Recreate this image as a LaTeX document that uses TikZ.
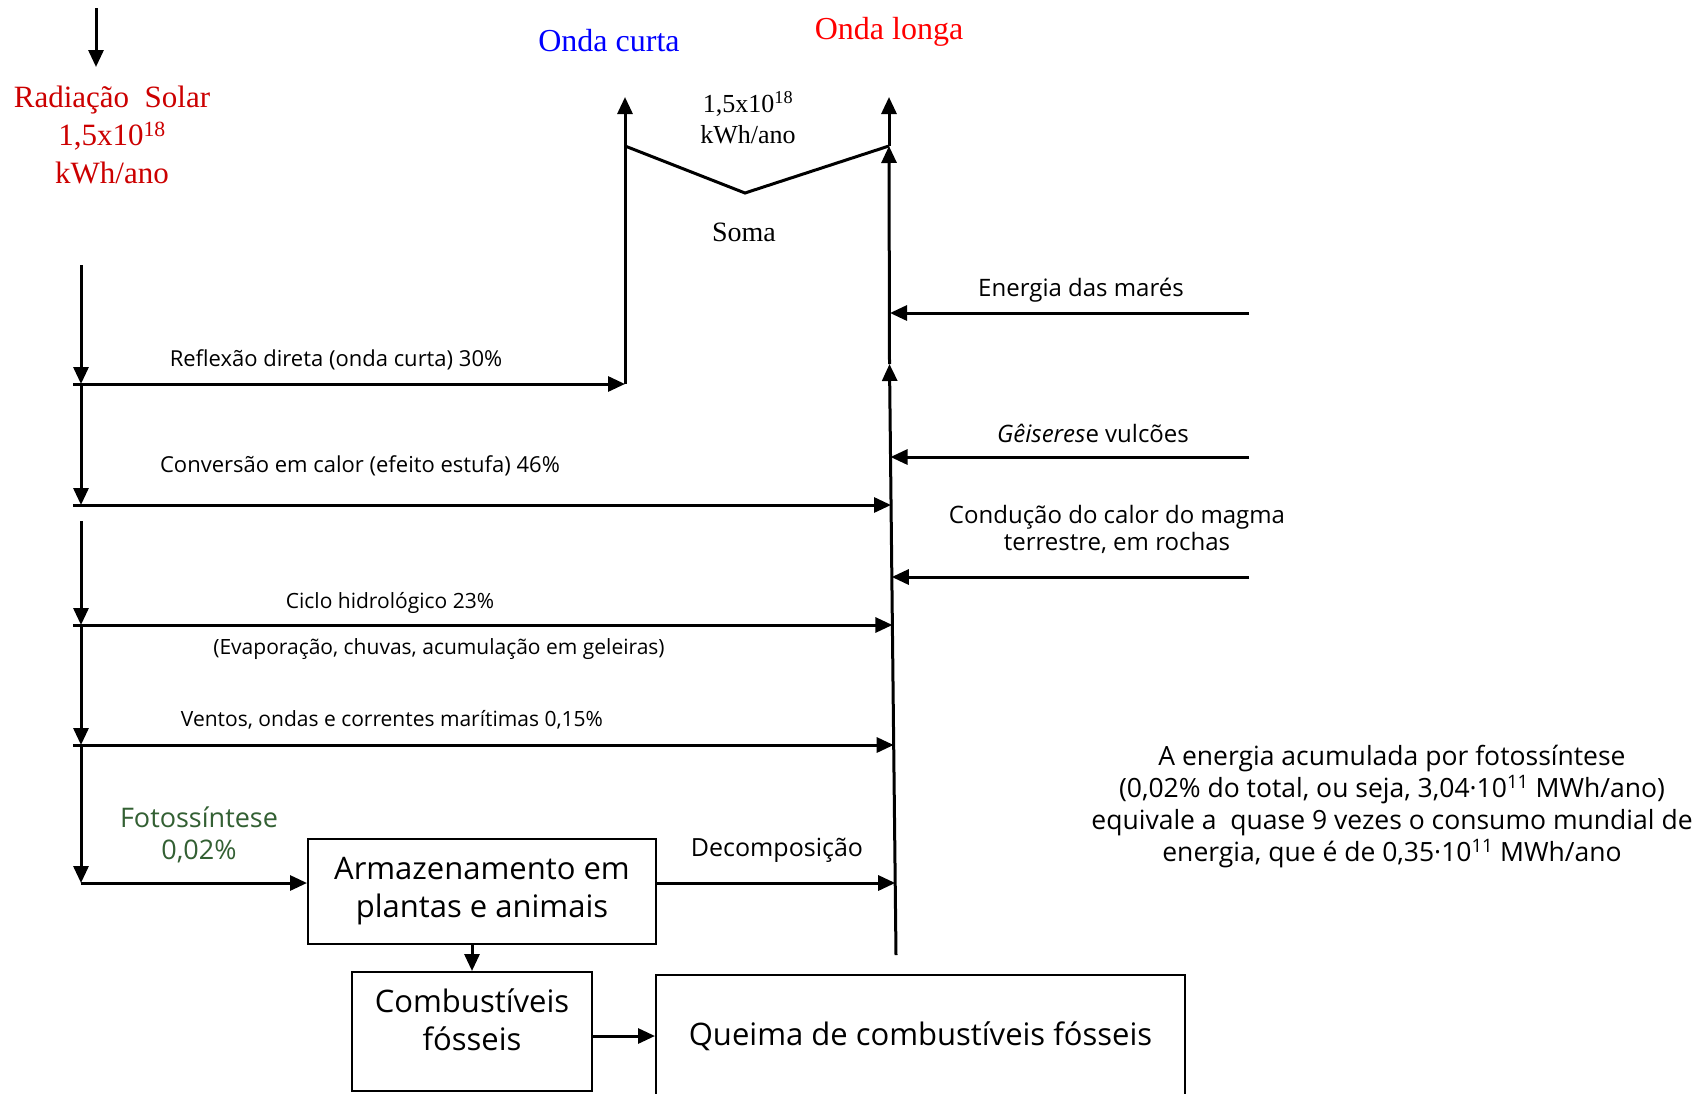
\documentclass[tikz,border=0pt]{standalone}
\usepackage{fontspec}
\setmainfont{Liberation Serif}
\newfontfamily\comic{Open Sans}
\usetikzlibrary{arrows.meta}
\definecolor{solred}{RGB}{204,0,0}
\definecolor{lred}{RGB}{255,0,0}
\definecolor{cblue}{RGB}{0,0,255}
\definecolor{fgreen}{RGB}{51,96,51}
\newcommand{\fsz}[2]{\fontsize{#1}{#2}\selectfont}
\tikzset{
  flow/.style={line width=3pt, -{Triangle[length=17pt,width=15pt]}},
  plainline/.style={line width=3pt},
  boxshape/.style={draw, line width=2pt, rectangle, inner sep=0pt},
  lbl/.style={inner sep=0pt, font=\comic\fsz{22}{26}},
  serif/.style={inner sep=0pt, align=center},
}
\begin{document}
\begin{tikzpicture}[x=1pt,y=-1pt]
\useasboundingbox (0,0) rectangle (1695,1093);
\clip (0,0) rectangle (1695,1093);
\fill[white] (0,0) rectangle (1695,1093);

% top texts
\coordinate (sunTop) at (96,8);
\coordinate (sunTip) at (96,67);
\draw[flow] (sunTop) -- (sunTip);
\node[serif, text=solred, font=\fsz{31}{38}] (rad) at (112,135) {Radiação\ \ Solar\\1,5x10\textsuperscript{18}\\kWh/ano};
\node[serif, text=cblue, font=\fsz{32}{38}] (oc) at (609,41) {Onda curta};
\node[serif, text=lred, font=\fsz{32}{38}] (ol) at (889,32) {Onda longa};
\node[serif, font=\fsz{26}{31}] (sumv) at (748,118) {1,5x10\textsuperscript{18}\\kWh/ano};
\node[serif, font=\fsz{28}{32}] (soma) at (744,232) {Soma};

% onda curta / longa verticals
\coordinate (ocBot) at (625,384);
\coordinate (ocV) at (625,146);
\coordinate (ocTop) at (625,97);
\coordinate (vBot) at (745,193);
\coordinate (olV) at (889,146);
\coordinate (olTop) at (889,97);
\coordinate (olMid) at (889.5,364);
\coordinate (olBot) at (896,955);
\draw[flow] (ocBot) -- (ocTop);
\draw[plainline] (ocV) -- (vBot) -- (olV);
\draw[flow] (olV) -- (olTop);
\draw[flow] (olMid) -- (olV);
\draw[flow] (olBot) -- (olMid);

% left trunk
\coordinate (L0) at (81,265);
\coordinate (L1) at (81,384);
\coordinate (L2) at (81,505);
\coordinate (L3t) at (81,521);
\coordinate (L3) at (81,625);
\coordinate (L4) at (81,745);
\coordinate (L5) at (81,883);
\draw[flow] (L0) -- (L1);
\draw[flow] (L1) -- (L2);
\draw[flow] (L3t) -- (L3);
\draw[flow] (L3) -- (L4);
\draw[flow] (L4) -- (L5);

% horizontal flows
\coordinate (H1) at (73,384);
\coordinate (H2) at (73,505);
\coordinate (H3) at (73,625);
\coordinate (H4) at (73,745);
\coordinate (E2) at (891,505);
\coordinate (E3) at (892.4,625);
\coordinate (E4) at (893.7,745);
\draw[flow] (H1) -- (ocBot);
\draw[flow] (H2) -- (E2);
\draw[flow] (H3) -- (E3);
\draw[flow] (H4) -- (E4);

\node[lbl] (refl) at (336,360) {Reflexão direta (onda curta) 30\%};
\node[lbl] (conv) at (360,466) {Conversão em calor (efeito estufa) 46\%};
\node[lbl, font=\comic\fsz{21}{26}] (ciclo) at (390,603) {Ciclo hidrológico 23\%};
\node[lbl, font=\comic\fsz{21}{26}] (evap) at (439,649) {(Evaporação, chuvas, acumulação em geleiras)};
\node[lbl, font=\comic\fsz{21}{26}] (vent) at (392,720) {Ventos, ondas e correntes marítimas 0,15\%};

% right inputs
\coordinate (M1s) at (1249,313);
\coordinate (M1e) at (890,313);
\coordinate (M2s) at (1249,457);
\coordinate (M2e) at (890.5,457);
\coordinate (M3s) at (1249,577);
\coordinate (M3e) at (891.8,577);
\draw[flow] (M1s) -- (M1e);
\draw[flow] (M2s) -- (M2e);
\draw[flow] (M3s) -- (M3e);
\node[lbl, font=\comic\fsz{24}{27}] (mares) at (1081,290) {Energia das marés};
\node[lbl, font=\comic\fsz{24}{27}] (geis) at (1093,433) {\textit{Gêiseres}e vulcões};
\node[lbl, font=\comic\fsz{24}{27}, align=center] (cond) at (1117,529.5) {Condução do calor do magma\\terrestre, em rochas};

% right note
\node[lbl, font=\comic\fsz{26.5}{31.7}, align=center] (note) at (1392,806.5) {A energia acumulada por fotossíntese\\(0,02\% do total, ou seja, 3,04·10\textsuperscript{11} MWh/ano)\\equivale a\ \ quase 9 vezes o consumo mundial de\\energia, que é de 0,35·10\textsuperscript{11} MWh/ano};

% photosynthesis and storage
\node[lbl, font=\comic\fsz{27}{32}, text=fgreen, align=center] (fot) at (199,835) {Fotossíntese\\0,02\%};
\node[boxshape, minimum width=348pt, minimum height=105pt, align=center, font=\comic\fsz{31}{38}] (arm) at (482,891.5) {Armazenamento em\\plantas e animais};
\coordinate (dEnd) at (895.2,883);
\draw[flow] (L5) -- (L5 -| arm.west);
\draw[flow] (L5 -| arm.east) -- (dEnd);
\node[lbl, font=\comic\fsz{25}{30}] (decomp) at (777,850) {Decomposição};

\node[boxshape, minimum width=240pt, minimum height=119pt] (comb) at (472,1031.5) {};
\node[lbl, font=\comic\fsz{31}{38}, align=center] (combtxt) at (472,1020) {Combustíveis\\fósseis};
\draw[flow] (arm.south -| comb.north) -- (comb.north);

\node[boxshape, minimum width=529pt, minimum height=122pt, font=\comic\fsz{31}{38}] (queima) at (920.5,1036) {Queima de combustíveis fósseis};
\coordinate (cq) at (620,1036);
\draw[flow] (cq -| comb.east) -- (cq -| queima.west);
\end{tikzpicture}
\end{document}
